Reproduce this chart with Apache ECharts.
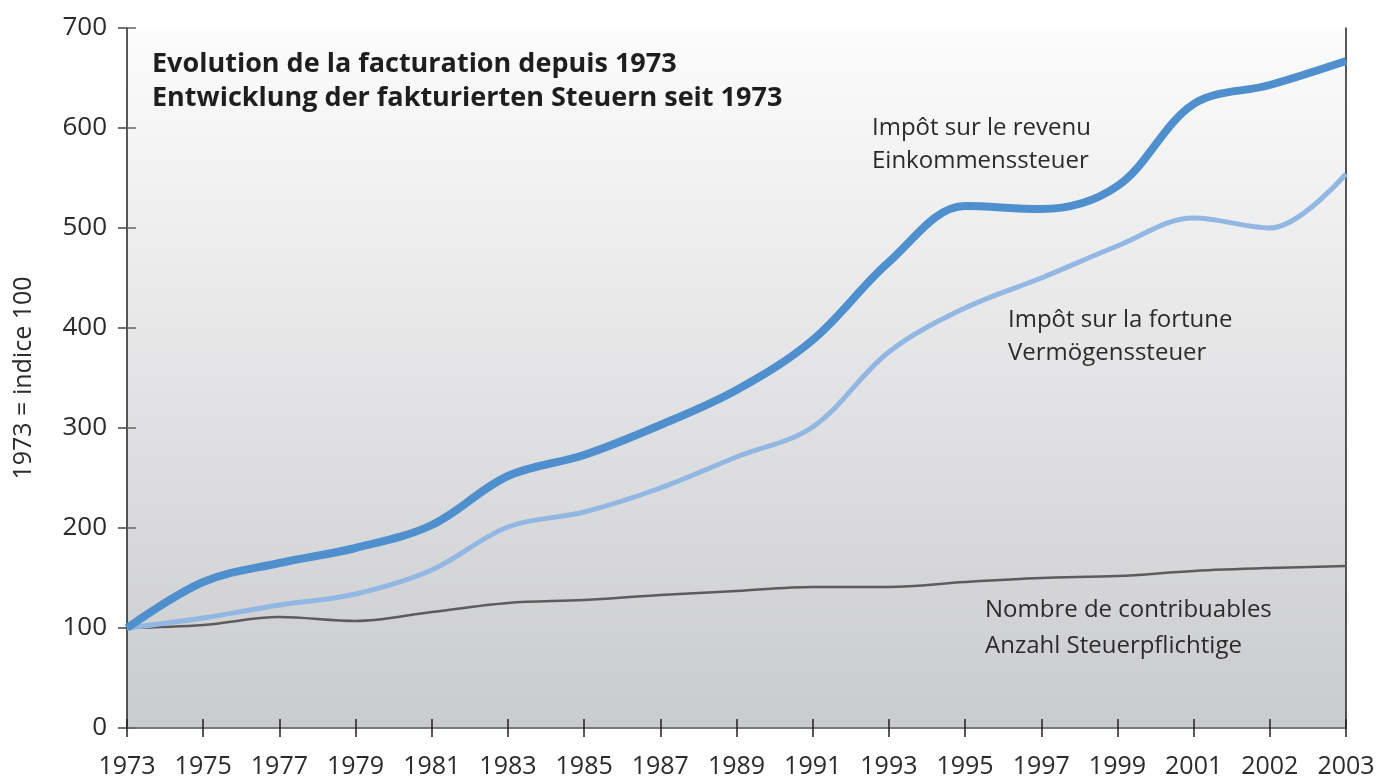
<!DOCTYPE html>
<html>
<head>
<meta charset="utf-8">
<script src="https://cdn.jsdelivr.net/npm/echarts@6/dist/echarts.min.js"></script>
<style>
  html, body { margin: 0; padding: 0; background: #fff; }
  #chart { width: 1377px; height: 778px; }
</style>
</head>
<body>
<div id="chart"></div>
<script>
// années (axe à catégories, 2001-2002-2003 espacés comme les autres)
var years = ['1973', '1975', '1977', '1979', '1981', '1983', '1985', '1987', '1989',
             '1991', '1993', '1995', '1997', '1999', '2001', '2002', '2003'];

// Impôt sur le revenu / Einkommenssteuer
var revenu = [100, 146, 165, 180, 203, 252, 273, 303, 338, 388, 466, 522, 519, 542, 624, 643, 667];
// Impôt sur la fortune / Vermögenssteuer
var fortune = [100, 110, 123, 134, 158, 201, 216, 240, 271, 301, 376, 420, 450, 482, 510, 500, 554];
// Nombre de contribuables / Anzahl Steuerpflichtige
var contribuables = [100, 103, 111, 107, 116, 125, 128, 133, 137, 141, 141, 146, 150, 152, 157, 160, 162];

var yTicks = [0, 100, 200, 300, 400, 500, 600, 700];

var font = '"Open Sans", "Noto Sans", sans-serif';
var txt = '#2b2b2b';

var chart = echarts.init(document.getElementById('chart'));

var option = {
    animation: false,
    textStyle: { fontFamily: font },
    grid: {
        left: 127, right: 31, top: 28, bottom: 50,
        containLabel: false,
        outerBoundsMode: 'none',
        show: true,
        borderWidth: 0,
        backgroundColor: new echarts.graphic.LinearGradient(0, 0, 0, 1, [
            { offset: 0, color: '#fcfcfc' },
            { offset: 1, color: '#cacbce' }
        ])
    },
    xAxis: [{
        type: 'category',
        data: years,
        boundaryGap: false,
        axisLine: { lineStyle: { color: '#222', width: 1.5 } },
        axisTick: { length: 9, interval: 0, lineStyle: { color: '#222', width: 1.5 } },
        axisLabel: { color: txt, fontSize: 25, margin: 26, interval: 0, hideOverlap: false, fontFamily: font },
        splitLine: { show: false }
    }, {
        // petits traits vers l'intérieur
        type: 'category',
        data: years,
        boundaryGap: false,
        position: 'bottom',
        axisLine: { show: false },
        axisTick: { inside: true, length: 9, interval: 0, lineStyle: { color: '#222', width: 1.5 } },
        axisLabel: { show: false }
    }, {
        type: 'category',
        data: years,
        boundaryGap: false,
        position: 'top',
        axisLine: { show: true, lineStyle: { color: '#888', width: 1.5 } },
        axisTick: { show: false },
        axisLabel: { show: false }
    }],
    yAxis: [{
        type: 'value',
        min: yTicks[0],
        max: yTicks[yTicks.length - 1],
        interval: 100,
        name: '1973 = indice 100',
        nameLocation: 'middle',
        nameGap: 91,
        nameTextStyle: { color: txt, fontSize: 25, fontFamily: font },
        axisLine: { show: true, lineStyle: { color: '#222', width: 1.5 } },
        axisTick: { show: true, length: 9, lineStyle: { color: '#444', width: 1.5 } },
        axisLabel: { color: txt, fontSize: 26, margin: 20, fontFamily: font },
        splitLine: { show: false }
    }, {
        type: 'value',
        min: yTicks[0],
        max: yTicks[yTicks.length - 1],
        interval: 100,
        position: 'left',
        axisLine: { show: false },
        axisTick: { show: true, inside: true, length: 9, lineStyle: { color: '#666', width: 1.5 } },
        axisLabel: { show: false },
        splitLine: { show: false }
    }, {
        type: 'value',
        min: yTicks[0],
        max: yTicks[yTicks.length - 1],
        interval: 100,
        position: 'right',
        axisLine: { show: true, lineStyle: { color: '#222', width: 1.5 } },
        axisTick: { show: false },
        axisLabel: { show: false },
        splitLine: { show: false }
    }],
    series: [{
        name: 'Nombre de contribuables',
        type: 'line',
        data: contribuables,
        smooth: 0.35,
        symbol: 'none',
        lineStyle: { color: '#5c5c5c', width: 2.5 },
        z: 3
    }, {
        name: 'Impôt sur la fortune',
        type: 'line',
        data: fortune,
        smooth: 0.35,
        symbol: 'none',
        lineStyle: { color: '#93b7e3', width: 5 },
        z: 4
    }, {
        name: 'Impôt sur le revenu',
        type: 'line',
        data: revenu,
        smooth: 0.35,
        symbol: 'none',
        lineStyle: { color: '#4f8fcd', width: 8 },
        z: 5
    }],
    graphic: [{
        type: 'text', left: 152, top: 47,
        style: { text: 'Evolution de la facturation depuis 1973\nEntwicklung der fakturierten Steuern seit 1973',
                 fill: '#1e1e1e', font: 'bold 27px ' + font, lineHeight: 34 }
    }, {
        type: 'text', left: 872, top: 112,
        style: { text: 'Impôt sur le revenu\nEinkommenssteuer', fill: txt, font: '24px ' + font, lineHeight: 33 }
    }, {
        type: 'text', left: 1008, top: 304,
        style: { text: 'Impôt sur la fortune\nVermögenssteuer', fill: txt, font: '24px ' + font, lineHeight: 33 }
    }, {
        type: 'text', left: 985, top: 592,
        style: { text: 'Nombre de contribuables\nAnzahl Steuerpflichtige', fill: txt, font: '24px ' + font, lineHeight: 36 }
    }]
};

chart.setOption(option);
window.addEventListener('resize', function () { chart.resize(); });
</script>
</body>
</html>
